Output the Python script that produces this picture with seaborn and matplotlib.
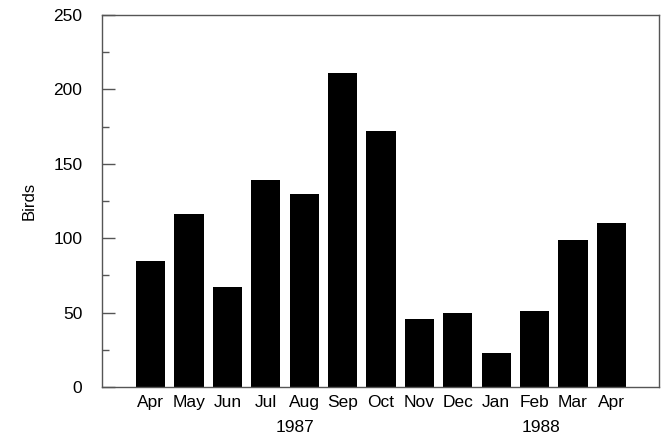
import matplotlib
matplotlib.use("Agg")
import matplotlib.pyplot as plt
import matplotlib.transforms as mtransforms
from matplotlib.ticker import MultipleLocator
import pandas as pd
import seaborn as sns

# Monthly bird counts, April 1987 - April 1988
periods = ["Apr-87", "May-87", "Jun-87", "Jul-87", "Aug-87", "Sep-87", "Oct-87",
           "Nov-87", "Dec-87", "Jan-88", "Feb-88", "Mar-88", "Apr-88"]
month_labels = ["Apr", "May", "Jun", "Jul", "Aug", "Sep", "Oct",
                "Nov", "Dec", "Jan", "Feb", "Mar", "Apr"]
birds = [85, 116, 67, 139, 130, 211, 172, 46, 50, 23, 51, 99, 110]
years = ["1987", "1988"]
year_positions = [3.75, 10.17]

df = pd.DataFrame({"period": periods, "birds": birds})

sns.set_theme(style="white")
plt.rcParams["font.family"] = ["Liberation Sans", "DejaVu Sans"]

fig = plt.figure(figsize=(6.65, 4.41), dpi=100)
ax = fig.add_axes([0.153, 0.1224, 0.838, 0.8436])

sns.barplot(data=df, x="period", y="birds", order=periods, color="black",
            saturation=1, width=0.76, linewidth=0, ax=ax)

ax.set_xlim(-1.27, 13.24)
ax.set_ylim(0, 250)
ax.yaxis.set_major_locator(MultipleLocator(50))
ax.yaxis.set_minor_locator(MultipleLocator(25))
ax.tick_params(axis="y", which="major", left=True, direction="in", length=9,
               width=1, color="#555555", labelsize=12.5, pad=14,
               labelcolor="black")
ax.tick_params(axis="y", which="minor", left=True, direction="in", length=5,
               width=1, color="#555555")
ax.tick_params(axis="x", bottom=False, length=0, labelsize=12.5, pad=6,
               labelcolor="black")
ax.set_xticks(range(len(periods)))
ax.set_xticklabels(month_labels)
ax.set_xlabel("")
ax.set_ylabel("Birds", fontsize=12, color="black", labelpad=12)

for side in ["left", "right", "top", "bottom"]:
    ax.spines[side].set_visible(True)
    ax.spines[side].set_color("#555555")
    ax.spines[side].set_linewidth(1.0)

trans = mtransforms.blended_transform_factory(ax.transData, fig.transFigure)
for label, xpos in zip(years, year_positions):
    ax.text(xpos, 1 - 428 / 441, label, transform=trans, ha="center",
            va="center", fontsize=12.5, color="black")

fig.savefig("out.png", dpi=100)
